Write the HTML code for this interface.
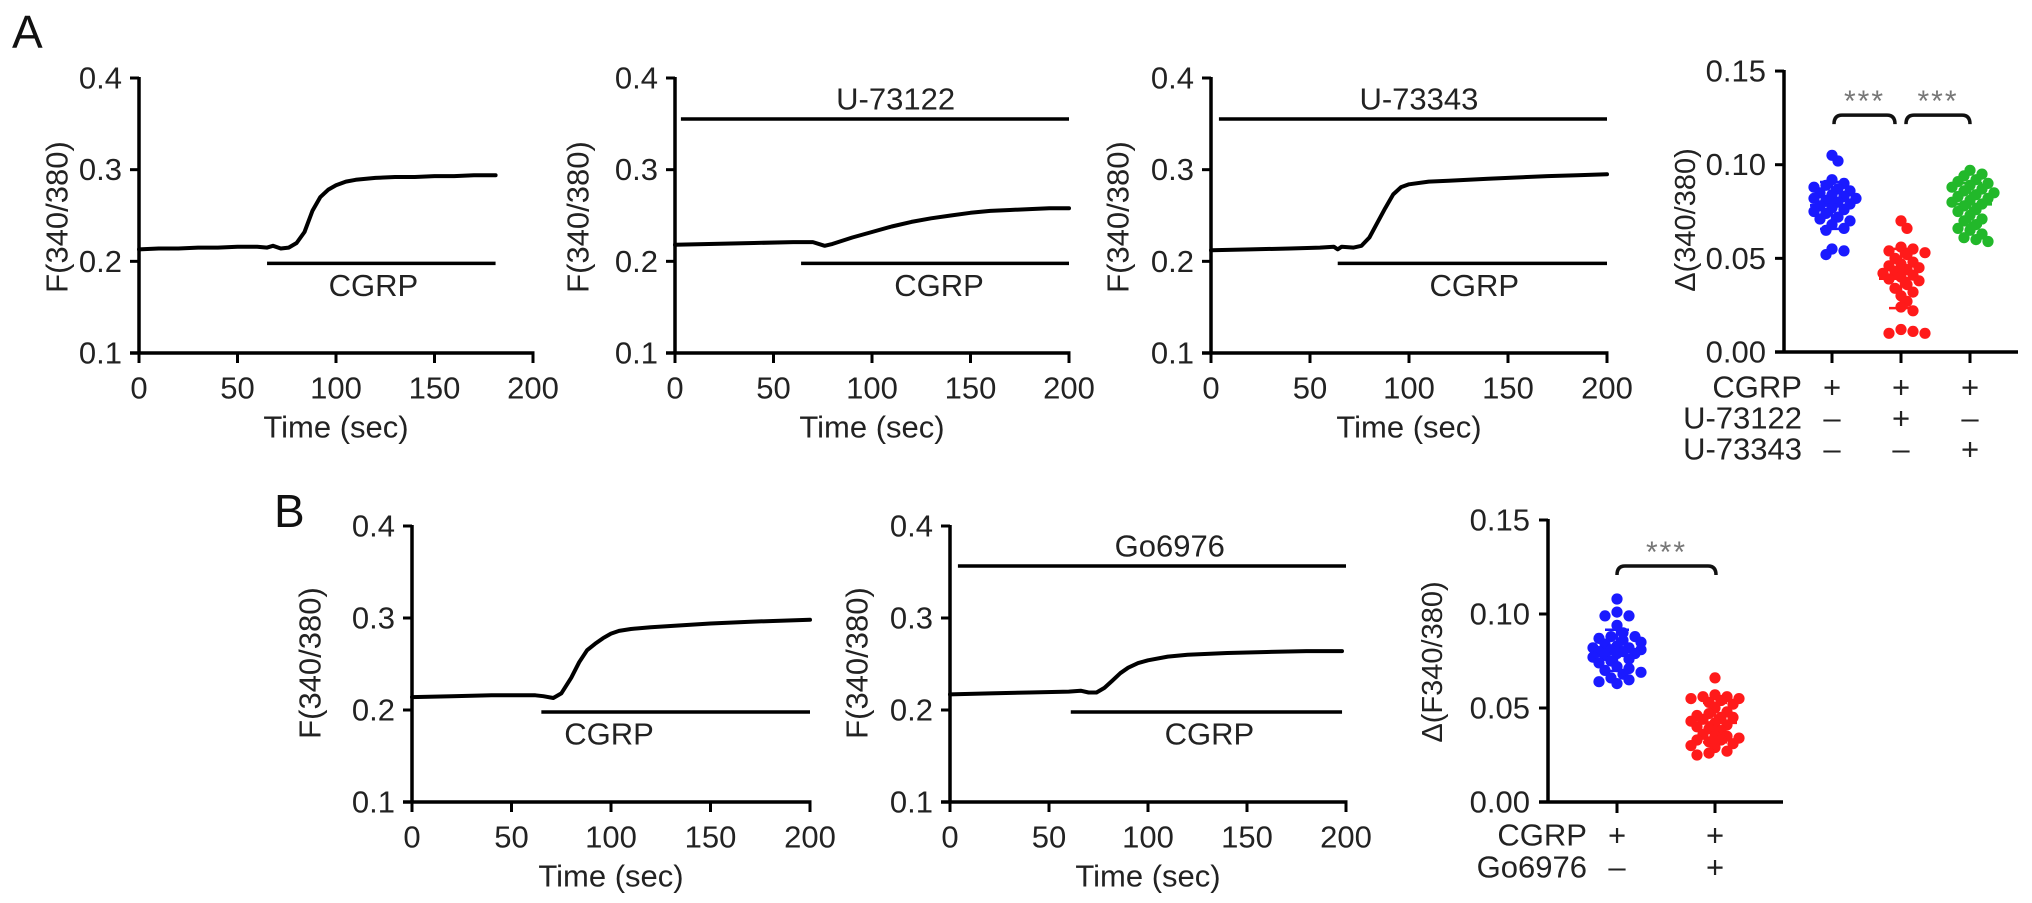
<!DOCTYPE html>
<html><head><meta charset="utf-8"><style>
html,body{margin:0;padding:0;background:#fff;}
svg{display:block;font-family:"Liberation Sans",Arial,sans-serif;}
</style></head><body>
<svg id="fig" width="2032" height="903" viewBox="0 0 2032 903" xmlns="http://www.w3.org/2000/svg">
<text x="12" y="48" font-size="46" fill="#111">A</text>
<text x="274" y="527" font-size="46" fill="#111">B</text>
</svg>
<script>
// ---------- trace data (time in sec, ratio F340/380) ----------
const a1Times = [0,10,20,30,40,50,60,65,68,72,76,80,84,88,92,96,100,105,110,120,130,140,150,160,170,181];
const a1Values = [.213,.214,.214,.215,.215,.216,.216,.215,.217,.214,.215,.220,.232,.255,.270,.278,.283,.287,.289,.291,.292,.292,.293,.293,.294,.294];
const a2Times = [0,20,40,60,70,76,80,90,100,110,120,130,140,150,160,170,180,190,200];
const a2Values = [.218,.219,.220,.221,.221,.217,.219,.226,.232,.238,.243,.247,.250,.253,.255,.256,.257,.258,.258];
const a3Times = [0,20,40,55,62,64,66,72,76,80,84,88,92,96,100,110,120,130,140,150,170,185,200];
const a3Values = [.212,.213,.214,.215,.216,.213,.216,.215,.217,.226,.242,.258,.273,.281,.284,.287,.288,.289,.290,.291,.293,.294,.295];
const b1Times = [0,20,40,55,62,66,71,75,80,84,88,92,96,100,104,110,120,135,150,170,200];
const b1Values = [.214,.215,.216,.216,.216,.215,.213,.218,.235,.252,.265,.272,.278,.283,.286,.288,.290,.292,.294,.296,.298];
const b2Times = [0,20,40,60,66,70,74,78,82,86,90,95,100,110,120,140,160,180,198];
const b2Values = [.217,.218,.219,.220,.221,.219,.219,.224,.232,.240,.246,.251,.254,.258,.260,.262,.263,.264,.264];
const traceYTicks = [0.1,0.2,0.3,0.4];
const traceYTickLabels = ["0.1","0.2","0.3","0.4"];
const traceXTicks = [0,50,100,150,200];
const traceXTickLabels = ["0","50","100","150","200"];

// ---------- scatter data (delta ratio) ----------
const aCgrp = [0.105,0.102,0.092,0.090,0.089,0.088,0.087,0.086,0.085,0.084,0.083,0.082,0.082,0.081,0.080,0.079,0.078,0.077,0.076,0.075,0.074,0.072,0.071,0.070,0.068,0.066,0.065,0.055,0.054,0.052];
const aU73122 = [0.070,0.066,0.056,0.055,0.054,0.053,0.052,0.050,0.048,0.047,0.046,0.045,0.044,0.043,0.042,0.041,0.040,0.039,0.038,0.036,0.034,0.032,0.030,0.027,0.024,0.022,0.012,0.011,0.010,0.010];
const aU73343 = [0.097,0.095,0.094,0.092,0.091,0.090,0.089,0.088,0.087,0.086,0.085,0.084,0.083,0.082,0.081,0.080,0.079,0.078,0.076,0.075,0.073,0.071,0.070,0.068,0.066,0.065,0.063,0.061,0.060,0.059];
const bCgrp = [0.108,0.101,0.099,0.099,0.094,0.090,0.088,0.088,0.087,0.086,0.085,0.084,0.083,0.082,0.082,0.081,0.081,0.080,0.080,0.079,0.079,0.078,0.077,0.076,0.075,0.074,0.072,0.071,0.070,0.069,0.068,0.066,0.065,0.064,0.063];
const bGo6976 = [0.066,0.057,0.056,0.056,0.055,0.055,0.054,0.053,0.052,0.050,0.048,0.047,0.046,0.045,0.045,0.044,0.043,0.042,0.041,0.040,0.039,0.038,0.036,0.035,0.035,0.034,0.033,0.033,0.032,0.031,0.030,0.029,0.027,0.026,0.025];
const scatterYTicks = [0,0.05,0.10,0.15];
const scatterYTickLabels = ["0.00","0.05","0.10","0.15"];
const aRowNames = ["CGRP","U-73122","U-73343"];
const aRowSigns = [["+","+","+"],["–","+","–"],["–","–","+"]];
const bRowNames = ["CGRP","Go6976"];
const bRowSigns = [["+","+"],["–","+"]];

const NS = "http://www.w3.org/2000/svg";
const svg = document.getElementById('fig');
function mk(tag, attrs, parent, txt){
  const e = document.createElementNS(NS, tag);
  for (const k in attrs) e.setAttribute(k, attrs[k]);
  if (txt !== undefined) e.textContent = txt;
  (parent||svg).appendChild(e);
  return e;
}

function drawTrace(c){
  const g = mk('g', {});
  
  
  const xs = t => c.ax + t*c.pxs;
  const ys = v => c.y01 + (v-0.1)*(c.y04-c.y01)/0.3;
  const ya = mk('line', {x1:c.ax, y1:c.y04-1, x2:c.ax, y2:c.y01+1, stroke:'#000','stroke-width':3.5}, g);
  
  
  const xa = mk('line', {x1:c.ax-9, y1:c.y01, x2:xs(200)+1.5, y2:c.y01, stroke:'#000','stroke-width':3.5}, g);
  
  
  traceYTicks.forEach((v,i)=>{
    mk('line', {x1:c.ax-9, y1:ys(v), x2:c.ax, y2:ys(v), stroke:'#000','stroke-width':3}, g);
    const t = mk('text', {x:c.ax-17, y:ys(v), 'font-size':31, 'text-anchor':'end','dominant-baseline':'central',fill:'#222'}, g, traceYTickLabels[i]);
    
    
  });
  traceXTicks.forEach((v,i)=>{
    mk('line', {x1:xs(v), y1:c.y01, x2:xs(v), y2:c.y01+10, stroke:'#000','stroke-width':3}, g);
    const t = mk('text', {x:xs(v), y:c.y01+35, 'font-size':31, 'text-anchor':'middle','dominant-baseline':'central',fill:'#222'}, g, traceXTickLabels[i]);
    
    
  });
  const xt = mk('text', {x:xs(100), y:c.y01+74, 'font-size':31, 'text-anchor':'middle','dominant-baseline':'central',fill:'#222'}, g, 'Time (sec)');
  
  
  const yt = mk('text', {x:0, y:0, 'font-size':31, 'text-anchor':'middle','dominant-baseline':'central',fill:'#222', transform:`translate(${c.ylx},${c.yly}) rotate(-90)`}, g, 'F(340/380)');
  
  
  const cb = mk('line', {x1:xs(c.cgrp[0]), y1:ys(0.2)+2, x2:xs(c.cgrp[1]), y2:ys(0.2)+2, stroke:'#000','stroke-width':3.5}, g);
  
  
  const ct = mk('text', {x:xs(c.cgrp[2]), y:ys(0.2)+24, 'font-size':31,'text-anchor':'middle','dominant-baseline':'central',fill:'#222'}, g, 'CGRP');
  
  
  if (c.drug){
    const db = mk('line', {x1:xs(c.drug[0]), y1:c.drugY, x2:xs(c.drug[1]), y2:c.drugY, stroke:'#000','stroke-width':3.5}, g);
    
    
    const dt = mk('text', {x:xs(c.drug[2]), y:c.drugY-20, 'font-size':31,'text-anchor':'middle','dominant-baseline':'central',fill:'#222'}, g, c.drugName);
    
    
  }
  const pts = c.times.map((t,i)=>xs(t).toFixed(1)+','+ys(c.values[i]).toFixed(1)).join(' ');
  const pl = mk('polyline', {points:pts, fill:'none', stroke:'#000','stroke-width':4,'stroke-linejoin':'round','stroke-linecap':'round'}, g);
  
  
}

drawTrace({name:'trace-a1', ax:139, y04:78, y01:353, pxs:1.97, ylx:57, yly:217, times:a1Times, values:a1Values, cgrp:[65,181,119]});
drawTrace({name:'trace-a2-u73122', ax:675, y04:78, y01:353, pxs:1.97, ylx:578, yly:217, times:a2Times, values:a2Values, cgrp:[64,200,134], drug:[3,200,112], drugY:119, drugName:'U-73122'});
drawTrace({name:'trace-a3-u73343', ax:1211, y04:78, y01:353, pxs:1.98, ylx:1118, yly:217, times:a3Times, values:a3Values, cgrp:[64,200,133], drug:[4,200,105], drugY:119, drugName:'U-73343'});
drawTrace({name:'trace-b1', ax:412, y04:526, y01:802, pxs:1.99, ylx:310, yly:663, times:b1Times, values:b1Values, cgrp:[65,200,99]});
drawTrace({name:'trace-b2-go6976', ax:950, y04:526, y01:802, pxs:1.98, ylx:857, yly:663, times:b2Times, values:b2Values, cgrp:[61,198,131], drug:[4,200,111], drugY:566, drugName:'Go6976'});

function drawScatter(c){
  const g = mk('g', {});
  
  
  const ys = v => c.y0 - v*c.ppu;
  const ya = mk('line', {x1:c.ax, y1:ys(0.15)-1, x2:c.ax, y2:c.y0+1, stroke:'#000','stroke-width':3.5}, g);
  
  
  const xa = mk('line', {x1:c.ax-9, y1:c.y0, x2:c.xEnd, y2:c.y0, stroke:'#000','stroke-width':3.5}, g);
  
  
  scatterYTicks.forEach((v,i)=>{
    mk('line', {x1:c.ax-9, y1:ys(v), x2:c.ax, y2:ys(v), stroke:'#000','stroke-width':3}, g);
    const t = mk('text', {x:c.ax-18, y:ys(v), 'font-size':31,'text-anchor':'end','dominant-baseline':'central',fill:'#222'}, g, scatterYTickLabels[i]);
    
    
  });
  const yt = mk('text', {x:0,y:0,'font-size':29,'text-anchor':'middle','dominant-baseline':'central',fill:'#222',transform:`translate(${c.ylx},${c.yly}) rotate(-90)`}, g, c.ylabel);
  
  
  c.groups.forEach((vals,gi)=>{
    const gx = c.gx[gi];
    mk('line', {x1:gx, y1:c.y0, x2:gx, y2:c.y0+11, stroke:'#000','stroke-width':3}, g);
    const placed = [];
    const sorted = vals.slice().sort((a,b)=>b-a);
    sorted.forEach(v=>{
      const y = ys(v);
      let best = gx, bestD = -1;
      for (let k=0;k<=8;k++){
        const off = (k===0)?0:((k%2===1)?1:-1)*Math.ceil(k/2)*6;
        const x = gx + off;
        let md = Infinity;
        placed.forEach(p=>{ md = Math.min(md, Math.hypot(p[0]-x,p[1]-y)); });
        if (md >= 8){ best = x; bestD = md; break; }
        if (md > bestD){ bestD = md; best = x; }
      }
      placed.push([best,y]);
      const d = mk('circle', {cx:best.toFixed(1), cy:y.toFixed(1), r:5.6, fill:c.colors[gi]}, g);
      
      
    });
    const mean = vals.reduce((a,b)=>a+b,0)/vals.length;
    const sd = Math.sqrt(vals.reduce((a,b)=>a+(b-mean)*(b-mean),0)/(vals.length-1));
    const ml = mk('line', {x1:gx-22, y1:ys(mean), x2:gx+22, y2:ys(mean), stroke:c.colors[gi],'stroke-width':3}, g);
    
    
    const eb = mk('path', {d:`M${gx},${ys(mean+sd)}V${ys(mean-sd)}M${gx-12},${ys(mean+sd)}H${gx+12}M${gx-12},${ys(mean-sd)}H${gx+12}`, stroke:c.colors[gi],'stroke-width':2.5, fill:'none'}, g);
    
    
  });
  c.brackets.forEach(b=>{
    const y = ys(c.bracketV);
    const bp = mk('path', {d:`M${b[0]},${y+9}Q${b[0]},${y} ${b[0]+8},${y}H${b[1]-8}Q${b[1]},${y} ${b[1]},${y+9}`, stroke:'#111','stroke-width':3.5, fill:'none'}, g);
    
    
    const st = mk('text', {x:(b[0]+b[1])/2, y:y-4, 'font-size':30,'text-anchor':'middle',fill:'#777','letter-spacing':2}, g, '***');
    
    
  });
  c.rowNames.forEach((n,ri)=>{
    const y = c.rowY[ri];
    const t = mk('text', {x:c.rowX, y:y, 'font-size':31,'text-anchor':'end','dominant-baseline':'central',fill:'#222'}, g, n);
    
    
    c.rowSigns[ri].forEach((s,gi)=>{
      const st = mk('text', {x:c.gx[gi], y:y, 'font-size':31,'text-anchor':'middle','dominant-baseline':'central',fill:'#222'}, g, s);
      
      
    });
  });
}

drawScatter({name:'scatter-a', ax:1784, y0:352, ppu:1873, xEnd:2018, gx:[1832,1901,1970], groups:[aCgrp,aU73122,aU73343], colors:['#1a1aff','#ff1a1a','#22b82a'], ylabel:'Δ(340/380)', ylx:1686, yly:220, bracketV:0.1265, brackets:[[1834,1895],[1906,1970]], rowNames:aRowNames, rowSigns:aRowSigns, rowX:1802, rowY:[387,418,449]});
drawScatter({name:'scatter-b', ax:1548, y0:802, ppu:1880, xEnd:1783, gx:[1617,1715], groups:[bCgrp,bGo6976], colors:['#1a1aff','#ff1a1a'], ylabel:'Δ(F340/380)', ylx:1433, yly:662, bracketV:0.1255, brackets:[[1617,1716]], rowNames:bRowNames, rowSigns:bRowSigns, rowX:1587, rowY:[835,867]});
</script>
</body></html>
